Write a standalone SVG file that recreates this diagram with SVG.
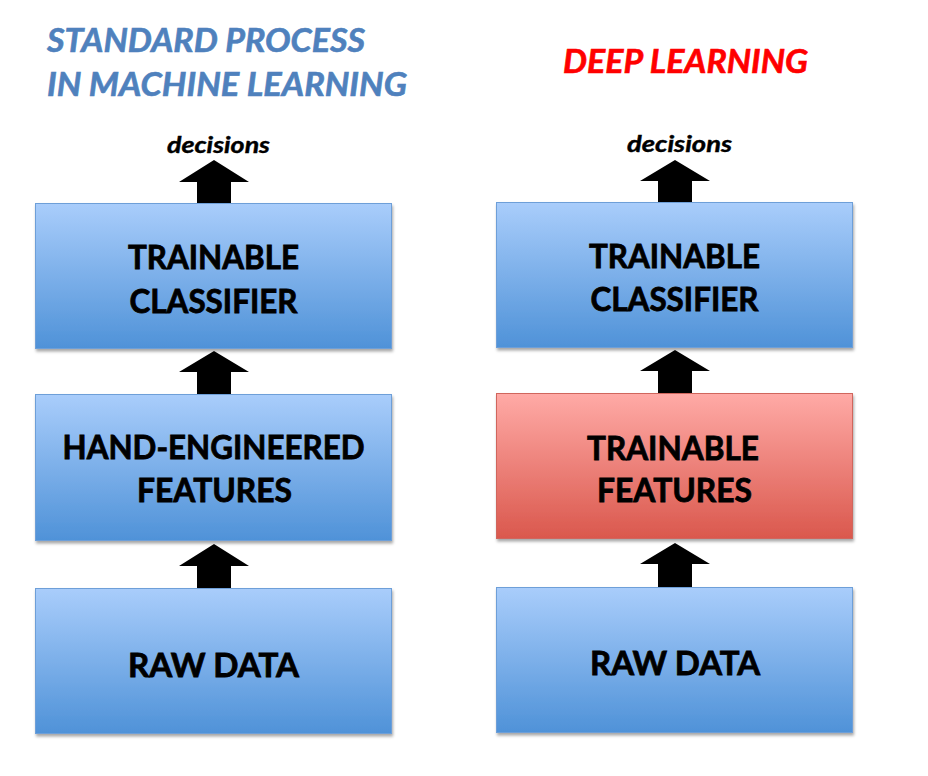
<svg xmlns="http://www.w3.org/2000/svg" width="928" height="776" viewBox="0 0 928 776">
<defs>
<linearGradient id="gBlue" x1="0" y1="0" x2="0" y2="1">
<stop offset="0" stop-color="#A9CDFB"/>
<stop offset="1" stop-color="#4F92D8"/>
</linearGradient>
<linearGradient id="gRed" x1="0" y1="0" x2="0" y2="1">
<stop offset="0" stop-color="#FFAAA6"/>
<stop offset="1" stop-color="#DA584D"/>
</linearGradient>
<filter id="sh" x="-5%" y="-5%" width="110%" height="115%">
<feDropShadow dx="1" dy="2.5" stdDeviation="1.5" flood-color="#000" flood-opacity="0.35"/>
</filter>
</defs>
<style>
.box{stroke-width:1;filter:url(#sh)}
.blue{fill:url(#gBlue);stroke:#6E9FD8}
.red{fill:url(#gRed);stroke:#D0665D}
.lbl{font-family:Lato,"Liberation Sans",sans-serif;font-weight:bold;font-size:33px;fill:#000;stroke:#000;stroke-width:0.8;text-anchor:middle}
.ttl{font-family:Lato,"Liberation Sans",sans-serif;font-weight:bold;font-style:italic;font-size:32px;stroke-width:0.6}
.dec{font-family:Lato,"Liberation Sans",sans-serif;font-weight:bold;font-style:italic;font-size:22px;fill:#000;stroke:#000;stroke-width:0.4}
.arr{fill:#000}
</style>
<rect width="928" height="776" fill="#fff"/>
<g id="titles">
<text class="ttl" x="47" y="52" fill="#4F81BD" stroke="#4F81BD" textLength="318" lengthAdjust="spacingAndGlyphs">STANDARD PROCESS</text>
<text class="ttl" x="47" y="96" fill="#4F81BD" stroke="#4F81BD" textLength="360" lengthAdjust="spacingAndGlyphs">IN MACHINE LEARNING</text>
<text class="ttl" x="563" y="73" fill="#FF0000" stroke="#FF0000" textLength="245" lengthAdjust="spacingAndGlyphs">DEEP LEARNING</text>
</g>
<g id="decisions-left"><text class="dec" x="167" y="153" textLength="103" lengthAdjust="spacingAndGlyphs">decisions</text></g>
<g id="decisions-right"><text class="dec" x="627" y="152" textLength="105" lengthAdjust="spacingAndGlyphs">decisions</text></g>
<g id="connectors">
<polygon class="arr" points="214,160 249,182 231,182 231,203 197,203 197,182 179,182"/>
<polygon class="arr" points="214,351 249,372 231,372 231,394 197,394 197,372 179,372"/>
<polygon class="arr" points="214,544 249,566 231,566 231,588 197,588 197,566 179,566"/>
<polygon class="arr" points="675,160 710,181 692,181 692,202 658,202 658,181 640,181"/>
<polygon class="arr" points="675,350 710,371 692,371 692,393 658,393 658,371 640,371"/>
<polygon class="arr" points="675,543 710,564 692,564 692,587 658,587 658,564 640,564"/>
</g>
<g id="left-classifier">
<rect class="box blue" x="35.5" y="203.5" width="356" height="145"/>
<text class="lbl" x="213.5" y="269" textLength="171" lengthAdjust="spacingAndGlyphs">TRAINABLE</text>
<text class="lbl" x="213.5" y="313" textLength="168" lengthAdjust="spacingAndGlyphs">CLASSIFIER</text>
</g>
<g id="left-features">
<rect class="box blue" x="35.5" y="394.5" width="356" height="146"/>
<text class="lbl" x="213.5" y="459" textLength="302" lengthAdjust="spacingAndGlyphs">HAND-ENGINEERED</text>
<text class="lbl" x="214.5" y="502" textLength="155" lengthAdjust="spacingAndGlyphs">FEATURES</text>
</g>
<g id="left-raw">
<rect class="box blue" x="35.5" y="588.5" width="356" height="145"/>
<text class="lbl" x="213.5" y="677" textLength="171" lengthAdjust="spacingAndGlyphs">RAW DATA</text>
</g>
<g id="right-classifier">
<rect class="box blue" x="496.5" y="202.5" width="356" height="145"/>
<text class="lbl" x="674.5" y="268" textLength="171" lengthAdjust="spacingAndGlyphs">TRAINABLE</text>
<text class="lbl" x="674.5" y="311" textLength="168" lengthAdjust="spacingAndGlyphs">CLASSIFIER</text>
</g>
<g id="right-features">
<rect class="box red" x="496.5" y="393.5" width="356" height="145"/>
<text class="lbl" x="673" y="460" textLength="172" lengthAdjust="spacingAndGlyphs">TRAINABLE</text>
<text class="lbl" x="674.5" y="502" textLength="155" lengthAdjust="spacingAndGlyphs">FEATURES</text>
</g>
<g id="right-raw">
<rect class="box blue" x="496.5" y="587.5" width="356" height="145"/>
<text class="lbl" x="675" y="675" textLength="170" lengthAdjust="spacingAndGlyphs">RAW DATA</text>
</g>
</svg>
